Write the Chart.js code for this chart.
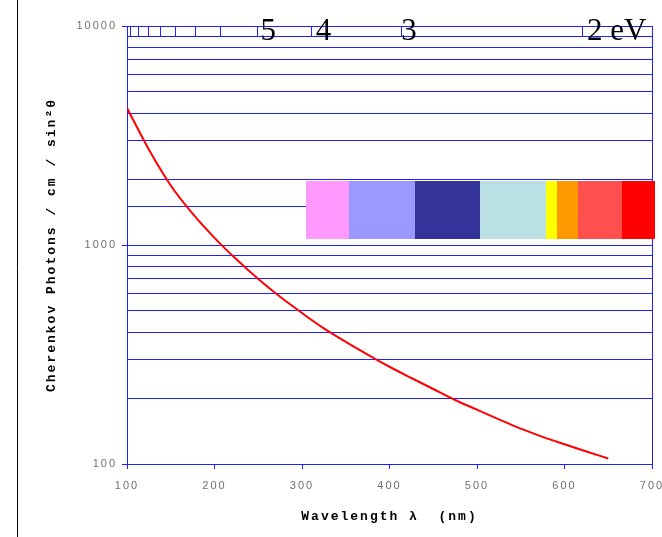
<!DOCTYPE html>
<html><head><meta charset="utf-8">
<script src="https://cdn.jsdelivr.net/npm/chart.js@4"></script>
<style>html,body{margin:0;padding:0;background:#fff;}#wrap{width:662px;height:537px;}</style>
</head><body><div id="wrap"><canvas id="c" width="662" height="537"></canvas></div>
<script>
// ---- data ----
const wavelengths = [100,125,150,175,200,225,250,275,300,325,350,375,400,425,450,475,500,525,550,575,600,625,650];
const photons = [4220,2730,1870,1390,1078,860,699,580,489,416,361,316,278,247,220,196,177,160,145,133,123,114,106];
const xTickValues = [100,200,300,400,500,600,700];
const yLabelValues = [100,1000,10000];
const energyTicks = [12,11,10,9,8,7,6,5,4,3,2];
const energyLabelValues = [5,4,3,2];
const energyLabelText = ['5','4','3','2 eV'];
const bandStart = [305,354,429,503,579,591,615,666];
const bandEnd   = [354,429,503,579,591,615,666,703];
const bandColors = ['#FF99FF','#9999FF','#333399','#BBE0E3','#FFFF00','#FF9900','#FF5050','#FF0000'];
const bandRange = [1065,1960];
const HC = 1240; // eV*nm

const BLUE = '#1f1fff';
const energyLabelDx = [4,5,0,5];

const deco = {
  id:'deco',
  beforeDraw(chart){ chart.ctx.letterSpacing = '2px'; },
  afterDraw(chart){
    const {ctx, chartArea:a, scales:{x,y}} = chart;
    ctx.save();
    ctx.letterSpacing = '0px';
    ctx.strokeStyle = BLUE; ctx.lineWidth = 1;
    ctx.beginPath();
    ctx.moveTo(a.left, Math.round(a.top)+0.5); ctx.lineTo(Math.round(a.right)+0.5, Math.round(a.top)+0.5);
    ctx.moveTo(Math.round(a.right)+0.5, a.top); ctx.lineTo(Math.round(a.right)+0.5, a.bottom);
    ctx.stroke();
    // colour bands
    const yT = Math.round(y.getPixelForValue(bandRange[1]));
    const yB = Math.round(y.getPixelForValue(bandRange[0]));
    bandStart.forEach((s,i)=>{
      const x0 = Math.round(x.getPixelForValue(s)), x1 = Math.round(x.getPixelForValue(bandEnd[i]));
      ctx.fillStyle = bandColors[i];
      ctx.fillRect(x0, yT, x1-x0, yB-yT);
    });
    // energy ticks
    const y0 = Math.round(y.getPixelForValue(10000));
    const y9 = Math.round(y.getPixelForValue(9000));
    ctx.beginPath();
    energyTicks.forEach(e=>{
      const px = Math.round(x.getPixelForValue(HC/e))+0.5;
      ctx.moveTo(px, y0); ctx.lineTo(px, y9);
    });
    ctx.stroke();
    ctx.fillStyle = '#000';
    ctx.font = '31px "Liberation Serif", "Times New Roman", serif';
    ctx.textAlign = 'left'; ctx.textBaseline = 'alphabetic';
    energyLabelValues.forEach((e,i)=>{
      const px = x.getPixelForValue(HC/e);
      ctx.fillText(energyLabelText[i], px + energyLabelDx[i], 39.5);
    });
    // outer frame line
    ctx.strokeStyle = '#000';
    ctx.beginPath(); ctx.moveTo(17.5,0); ctx.lineTo(17.5,537); ctx.stroke();
    ctx.restore();
  }
};

new Chart(document.getElementById('c'), {
  type:'line',
  data:{
    datasets:[{
      data: wavelengths.map((w,i)=>({x:w, y:photons[i]})),
      borderColor:'#ff0000', borderWidth:2, pointRadius:0,
      cubicInterpolationMode:'monotone', fill:false
    }]
  },
  options:{
    responsive:false, animation:false, devicePixelRatio:1,
    layout:{padding:{top:26,right:10,bottom:0,left:0}},
    plugins:{legend:{display:false}, tooltip:{enabled:false}},
    scales:{
      x:{
        type:'linear', min:100, max:700,
        afterBuildTicks(s){ s.ticks = xTickValues.map(v=>({value:v})); },
        afterFit(s){ s.height = 73; s.paddingLeft = 0; s.paddingRight = 0; },
        grid:{drawOnChartArea:false, drawTicks:true, tickLength:5, color:BLUE},
        border:{display:true, color:BLUE},
        ticks:{color:'#707070', font:{family:'"Liberation Sans", Arial, sans-serif', size:11}, padding:10, maxRotation:0, autoSkip:false},
        title:{display:true, text:'Wavelength λ  (nm)', color:'#000', font:{family:'"Liberation Mono", "Courier New", monospace', size:13, weight:'bold'}, padding:{top:0,bottom:12}}
      },
      y:{
        type:'logarithmic', min:100, max:10000,
        afterFit(s){ s.width = 127; s.paddingTop = 0; s.paddingBottom = 0; },
        grid:{color:BLUE, tickLength:5,
          tickColor:(c)=> (c.tick && yLabelValues.includes(c.tick.value)) ? BLUE : 'rgba(0,0,0,0)'},
        border:{display:true, color:BLUE},
        ticks:{autoSkip:false, color:'#707070', font:{family:'"Liberation Sans", Arial, sans-serif', size:11}, padding:5,
          callback:(v)=> yLabelValues.includes(v) ? String(v) : ''},
        title:{display:true, text:'Cherenkov Photons / cm / sin²θ', color:'#000', font:{family:'"Liberation Mono", "Courier New", monospace', size:13, weight:'bold'}, padding:{top:44,bottom:0}}
      }
    }
  },
  plugins:[deco]
});
</script>
</body></html>
